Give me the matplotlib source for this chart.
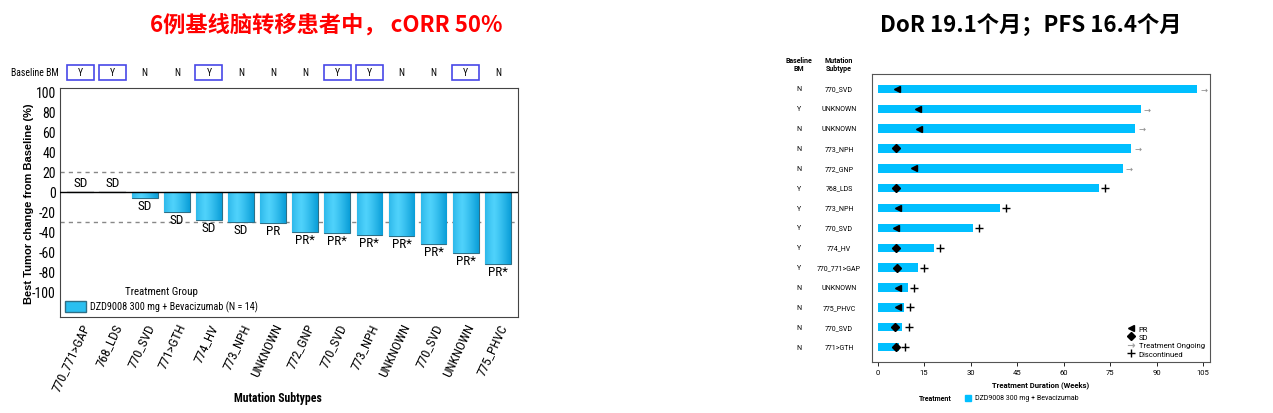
import numpy as np
import matplotlib
matplotlib.use("Agg")
import matplotlib.pyplot as plt
from matplotlib import font_manager
from matplotlib.patches import Patch, Rectangle
from matplotlib.lines import Line2D

plt.rcParams['font.family'] = ['Liberation Sans', 'Noto Sans CJK SC', 'DejaVu Sans']

# waterfall data (left)
subtypes = ['770_771>GAP', '768_LDS', '770_SVD', '771>GTH', '774_HV', '773_NPH', 'UNKNOWN',
            '772_GNP', '770_SVD', '773_NPH', 'UNKNOWN', '770_SVD', 'UNKNOWN', '775_PHVC']
change = [0, 0, -6, -20, -28, -30, -31, -40, -41, -43, -44, -52, -61, -72]
response = ['SD', 'SD', 'SD', 'SD', 'SD', 'SD', 'PR', 'PR*', 'PR*', 'PR*', 'PR*', 'PR*', 'PR*', 'PR*']
baseline_bm = ['Y', 'Y', 'N', 'N', 'Y', 'N', 'N', 'N', 'Y', 'Y', 'N', 'N', 'Y', 'N']

# swimmer data (right)
sw_bm = ['N', 'Y', 'N', 'N', 'N', 'Y', 'Y', 'Y', 'Y', 'Y', 'N', 'N', 'N', 'N']
sw_subtype = ['770_SVD', 'UNKNOWN', 'UNKNOWN', '773_NPH', '772_GNP', '768_LDS', '773_NPH',
              '770_SVD', '774_HV', '770_771>GAP', 'UNKNOWN', '775_PHVC', '770_SVD', '771>GTH']
duration = [103.0, 84.9, 83.0, 81.8, 79.0, 71.3, 39.5, 30.8, 18.2, 13.1, 9.8, 8.5, 8.0, 6.9]
resp_week = [6.2, 13.0, 13.2, 6.1, 11.6, 6.1, 6.5, 6.0, 6.0, 6.3, 6.5, 6.5, 5.7, 5.9]
best_resp = ['PR', 'PR', 'PR', 'SD', 'PR', 'SD', 'PR', 'PR', 'SD', 'SD', 'PR', 'PR', 'SD', 'SD']
ongoing = [True, True, True, True, True, False, False, False, False, False, False, False, False, False]


def pick(names):
    for n in names:
        try:
            font_manager.findfont(n, fallback_to_default=False)
            return n
        except Exception:
            pass
    return 'DejaVu Sans'

narrow = pick(['Roboto Condensed', 'Liberation Sans Narrow', 'Open Sans Condensed', 'Liberation Sans'])
nscale = 1.0 if narrow != 'Liberation Sans' else 0.88
roboto = pick(['Roboto', 'Liberation Sans'])
cjk = ['Noto Sans CJK SC', 'DejaVu Sans']

fig = plt.figure(figsize=(12.73, 4.14), dpi=100)
W, H = 1273, 414


def px_axes(l, t, r, b):
    return fig.add_axes([l / W, 1 - b / H, (r - l) / W, (b - t) / H])

# ---------- left: waterfall ----------
ax = px_axes(60, 89, 518, 318)
x = np.arange(len(change))
bars = ax.bar(x, change, width=0.8, color='#29bff0', edgecolor='#2f6f86', linewidth=0.8, zorder=2)
grad = np.linspace(0, 1, 64)
grad = 1 - 0.5 * np.abs(grad - 0.35) ** 1.2
cmap = matplotlib.colors.LinearSegmentedColormap.from_list('b', ['#0a9ed8', '#4fd2fb'])
for b, v in zip(bars, change):
    if v == 0:
        ax.plot([b.get_x(), b.get_x() + b.get_width()], [0, 0], color='#dddddd', lw=1.5, zorder=3)
        continue
    im = ax.imshow(grad[None, :], cmap=cmap, aspect='auto', zorder=2.5,
                   extent=[b.get_x(), b.get_x() + b.get_width(), v, 0])
    im.set_clip_path(b)
ax.axhline(0, color='black', lw=1, zorder=3)
ax.axhline(20, color='#888888', lw=1, ls=(0, (3, 3)), zorder=1)
ax.axhline(-30, color='#888888', lw=1, ls=(0, (3, 3)), zorder=1)
for i, (v, r) in enumerate(zip(change, response)):
    if v == 0:
        ax.text(i, 3, r, ha='center', va='bottom', fontsize=9.5 * nscale, family=narrow)
    else:
        ax.text(i, v - 1, r, ha='center', va='top', fontsize=9.5 * nscale, family=narrow)
ax.set_xlim(-0.64, 13.63)
ax.set_ylim(-125, 104)
ax.set_yticks(range(-100, 101, 20))
ax.set_yticklabels([str(t) for t in range(-100, 101, 20)], family=narrow, fontsize=10 * nscale)
ax.set_xticks(x)
ax.set_xticklabels(subtypes, rotation=65, ha='right', rotation_mode='anchor', family=narrow,
                   fontsize=9.5 * nscale)
ax.tick_params(axis='both', length=0, pad=3)
ax.set_ylabel('Best Tumor change from Baseline (%)', fontsize=8, fontweight='bold')
ax.yaxis.set_label_coords(-0.057, 0.5)
ax.set_xlabel('Mutation Subtypes', fontsize=8.5 * nscale, fontweight='bold', family=narrow)
ax.xaxis.set_label_coords(0.475, -0.325)
for s in ax.spines.values():
    s.set_color('#444444')
leg = ax.legend(handles=[Patch(facecolor='#29bff0', edgecolor='#2f6f86')],
                labels=['DZD9008 300 mg + Bevacizumab (N = 14)'], title='Treatment Group',
                loc='lower left', frameon=False,
                prop={'family': narrow, 'size': 7.3 * nscale}, handlelength=2.1, handleheight=1.3,
                handletextpad=0.4, borderaxespad=0.25, borderpad=0.2)
leg.get_title().set_family(narrow)
leg.get_title().set_fontsize(7.8 * nscale)

# baseline BM row above the axes
fig.text(59 / W, 1 - 73 / H, 'Baseline BM', ha='right', va='center', fontsize=7 * nscale, family=narrow)
fig.canvas.draw()
for i, bm in enumerate(baseline_bm):
    xd = ax.transData.transform((i, 0))[0]
    fig.text(xd / W, 1 - 73 / H, bm, ha='center', va='center', fontsize=7 * nscale, family=narrow)
    if bm == 'Y':
        fig.patches.append(Rectangle(((xd - 13.5) / W, 1 - 81 / H), 27 / W, 15 / H,
                                     transform=fig.transFigure, fc='none', ec='#4848e8', lw=1.2))

fig.text(326 / W, 1 - 25 / H, '6例基线脑转移患者中， cORR 50%', color='#ff0000', fontsize=16,
         fontweight='bold', ha='center', va='center', family=cjk)

# ---------- right: swimmer ----------
bx = px_axes(872, 75, 1210, 363)
rows = np.arange(len(duration))
bx.barh(rows, duration, height=0.42, color='#00bfff', zorder=2)
for r, (wk, br) in enumerate(zip(resp_week, best_resp)):
    mk = '<' if br == 'PR' else 'D'
    bx.plot(wk, r, marker=mk, color='black', ms=5 if br == 'PR' else 4.5, zorder=3, ls='none')
for r, (d, og) in enumerate(zip(duration, ongoing)):
    if og:
        bx.text(d + 1.0, r, '→', ha='left', va='center', color='#888888', fontsize=6,
                family='DejaVu Sans')
    else:
        bx.plot(d + 2.0, r, marker='+', color='black', ms=6, mew=1, zorder=3, ls='none')
bx.set_xlim(-1.8, 107.2)
bx.set_ylim(13.75, -0.75)
bx.set_xticks(range(0, 106, 15))
bx.set_xticklabels([str(t) for t in range(0, 106, 15)], family=roboto, fontsize=5.5)
bx.tick_params(axis='x', length=3, width=0.6, pad=2)
bx.set_yticks([])
bx.set_xlabel('Treatment Duration (Weeks)', fontsize=5.5, fontweight='bold', labelpad=4, family=roboto)
for s in bx.spines.values():
    s.set_color('#555555')
    s.set_linewidth(0.8)

leg_handles = [
    Line2D([], [], marker='<', color='black', ls='none', ms=5),
    Line2D([], [], marker='D', color='black', ls='none', ms=4.5),
    Line2D([], [], marker=r'$\rightarrow$', color='#999999', ls='none', ms=5, mew=0.2),
    Line2D([], [], marker='+', color='black', ls='none', ms=6, mew=1),
]
bx.legend(leg_handles, ['PR', 'SD', 'Treatment Ongoing', 'Discontinued'], loc='lower right',
          frameon=False, prop={'family': roboto, 'size': 5.5}, handlelength=1, handletextpad=0.5,
          labelspacing=0.25, borderaxespad=0.3)

for r, (bm, st) in enumerate(zip(sw_bm, sw_subtype)):
    yf = bx.transData.transform((0, r))[1] / H
    fig.text(799 / W, yf, bm, ha='center', va='center', fontsize=5, family=roboto)
    fig.text(839 / W, yf, st, ha='center', va='center', fontsize=5, family=roboto)
fig.text(799 / W, 1 - 65 / H, 'Baseline\nBM', ha='center', va='center', fontsize=5,
         fontweight='bold', linespacing=1.1, family=roboto)
fig.text(839 / W, 1 - 65 / H, 'Mutation\nSubtype', ha='center', va='center', fontsize=5,
         fontweight='bold', linespacing=1.1, family=roboto)

fig.text(935 / W, 1 - 399 / H, 'Treatment', ha='center', va='center', fontsize=5, fontweight='bold',
         family=roboto)
fig.patches.append(Rectangle((965 / W, 1 - 402 / H), 6 / W, 6 / H,
                             transform=fig.transFigure, color='#00bfff'))
fig.text(975 / W, 1 - 399 / H, 'DZD9008 300 mg + Bevacizumab', ha='left', va='center', fontsize=5,
         family=roboto)

fig.text(1031 / W, 1 - 25 / H, 'DoR 19.1个月；PFS 16.4个月', color='black', fontsize=16,
         fontweight='bold', ha='center', va='center', family=cjk)

fig.savefig('out.png', dpi=100)
